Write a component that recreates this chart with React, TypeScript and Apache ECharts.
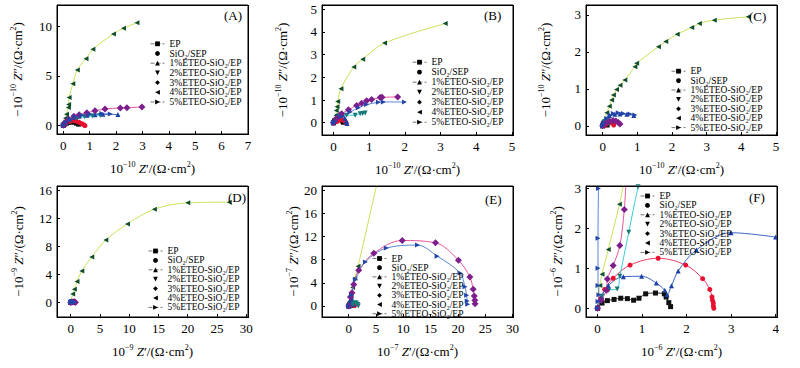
import React, { useEffect, useRef } from "react";
import * as echarts from "echarts";

type Pts = [number, number][];

const FONT = "'Liberation Serif', 'Times New Roman', serif";

const seriesNames = [
  "EP",
  "SiO₂/SEP",
  "1%ETEO-SiO₂/EP",
  "2%ETEO-SiO₂/EP",
  "3%ETEO-SiO₂/EP",
  "4%ETEO-SiO₂/EP",
  "5%ETEO-SiO₂/EP",
];
const panelLabels = ["(A)", "(B)", "(C)", "(D)", "(E)", "(F)"];
const exponents = ["10", "10", "10", "9", "7", "6"];

// tick labels
const xTicksA = [0, 1, 2, 3, 4, 5, 6, 7];
const yTicksA = [0, 5, 10];
const xTicksB = [0, 1, 2, 3, 4, 5];
const yTicksB = [0, 1, 2, 3, 4, 5];
const xTicksC = [0, 1, 2, 3, 4, 5];
const yTicksC = [0, 1, 2, 3];
const xTicksD = [0, 5, 10, 15, 20, 25, 30];
const yTicksD = [0, 4, 8, 12, 16];
const xTicksE = [0, 5, 10, 15, 20, 25, 30];
const yTicksE = [0, 4, 8, 12, 16, 20];
const xTicksF = [0, 1, 2, 3, 4];
const yTicksF = [0, 1, 2, 3];

// ---- Panel A (10^-10) ----
const aEP: Pts = [[0, 0], [0.05, 0.1], [0.12, 0.2], [0.2, 0.28], [0.3, 0.33], [0.4, 0.3], [0.5, 0.2], [0.58, 0.1]];
const aSiO2: Pts = [[0, 0], [0.1, 0.2], [0.25, 0.38], [0.4, 0.45], [0.5, 0.4], [0.6, 0.28], [0.7, 0.15], [0.78, 0.03], [0.82, -0.05]];
const a1: Pts = [[0, 0], [0.1, 0.3], [0.25, 0.6], [0.4, 0.8], [0.6, 0.9], [0.9, 1.0], [1.2, 1.05], [1.5, 1.1], [2.07, 1.08]];
const a2: Pts = [[0, 0], [0.1, 0.25], [0.25, 0.5], [0.5, 0.7], [0.8, 0.85], [1.1, 0.92], [1.4, 0.98]];
const a3: Pts = [[0, 0], [0.08, 0.3], [0.2, 0.6], [0.4, 0.9], [0.6, 1.05], [0.89, 1.25], [1.2, 1.45], [1.58, 1.63], [2.16, 1.75], [2.41, 1.76], [2.98, 1.85]];
const a4: Pts = [[0, 0], [0.04, 0.35], [0.08, 0.7], [0.12, 1.1], [0.19, 1.8], [0.2, 2.1], [0.22, 2.8], [0.36, 4.2], [0.53, 5.6], [0.86, 6.75], [1.12, 7.7], [1.9, 9.26], [2.28, 9.83], [2.79, 10.4]];
const a5: Pts = [[0, 0], [0.1, 0.3], [0.25, 0.6], [0.45, 0.85], [0.7, 1.0], [1.0, 1.1], [1.46, 1.18], [1.78, 1.12]];

// ---- Panel B (10^-10) ----
const bEP: Pts = [[0, 0], [0.03, 0.08], [0.08, 0.15], [0.14, 0.18], [0.2, 0.15], [0.25, 0.08], [0.28, 0.02]];
const bSiO2: Pts = [[0.1, 0.05], [0.18, 0.12], [0.24, 0.14], [0.3, 0.1], [0.34, 0.04], [0.36, -0.02]];
const b1: Pts = [[0, 0], [0.05, 0.15], [0.1, 0.3], [0.18, 0.4], [0.25, 0.35], [0.32, 0.2], [0.36, 0.05], [0.38, -0.03]];
const b2: Pts = [[0, 0], [0.05, 0.09], [0.19, 0.26], [0.37, 0.33], [0.61, 0.33], [0.75, 0.4], [0.82, 0.41], [0.89, 0.43]];
const b3: Pts = [[0, 0], [0.09, 0.19], [0.23, 0.4], [0.42, 0.57], [0.65, 0.76], [0.79, 0.86], [0.93, 0.97], [1.07, 1.03], [1.31, 1.11], [1.36, 1.12], [1.8, 1.14]];
const b4: Pts = [[0, 0], [0.03, 0.11], [0.07, 0.33], [0.08, 0.54], [0.1, 0.71], [0.12, 0.94], [0.21, 1.5], [0.57, 2.46], [0.82, 2.8], [1.43, 3.51], [3.13, 4.37]];
const b5: Pts = [[0, 0], [0.05, 0.04], [0.23, 0.26], [0.47, 0.47], [0.7, 0.66], [0.93, 0.8], [1.26, 0.9], [1.4, 0.92], [1.99, 0.91]];

// ---- Panel C (10^-10) ----
const cEP: Pts = [[0, 0], [0.02, 0.05], [0.06, 0.08], [0.1, 0.06], [0.13, 0.02]];
const cSiO2: Pts = [[0.05, 0], [0.12, 0.06], [0.2, 0.09], [0.27, 0.07], [0.32, 0.02]];
const c1: Pts = [[0, 0], [0.04, 0.1], [0.1, 0.2], [0.2, 0.27], [0.35, 0.31], [0.5, 0.32], [0.7, 0.31], [0.9, 0.28]];
const c2: Pts = [[0, 0], [0.05, 0.1], [0.1, 0.15], [0.15, 0.12], [0.2, 0.05]];
const c3: Pts = [[0, 0], [0.1, 0.08], [0.2, 0.12], [0.3, 0.14], [0.38, 0.13], [0.45, 0.09], [0.5, 0.05]];
const c4: Pts = [[0, 0], [0.04, 0.15], [0.12, 0.35], [0.19, 0.53], [0.26, 0.7], [0.31, 0.83], [0.4, 0.98], [0.5, 1.1], [0.64, 1.24], [0.93, 1.6], [0.98, 1.69], [1.61, 2.14], [1.82, 2.28], [2.15, 2.48], [2.57, 2.66], [2.79, 2.77], [3.22, 2.86], [4.2, 2.95]];
const c5: Pts = [[0, 0], [0.04, 0.08], [0.12, 0.2], [0.21, 0.29], [0.31, 0.33], [0.45, 0.35], [0.6, 0.33], [0.79, 0.32], [0.93, 0.29]];

// ---- Panel D (10^-9) ----
const dEP: Pts = [[0, 0], [0.1, 0.05], [0.2, 0.08], [0.3, 0.05], [0.35, 0]];
const dSiO2: Pts = [[0, 0], [0.15, 0.06], [0.3, 0.08], [0.45, 0.04], [0.5, 0]];
const d1: Pts = [[0, 0], [0.1, 0.1], [0.3, 0.15], [0.5, 0.1], [0.6, 0.02]];
const d2: Pts = [[0, 0], [0.05, 0.05], [0.1, 0.07], [0.15, 0.03]];
const d3: Pts = [[0, 0], [0.2, 0.08], [0.45, 0.12], [0.7, 0.1], [0.8, 0.02]];
const d4: Pts = [[0, 0], [0.34, 1.23], [0.63, 1.9], [1.08, 3.0], [1.9, 4.5], [3.6, 6.5], [6.0, 8.9], [9.7, 11.2], [14.3, 13.3], [20.0, 14.2], [27.1, 14.3]];
const d5: Pts = [[0, 0], [0.1, 0.1], [0.3, 0.2], [0.5, 0.15], [0.65, 0.05]];

// ---- Panel E (10^-7) ----
const eEP: Pts = [[0, 0], [0.2, 0.3], [0.4, 0.45], [0.6, 0.35], [0.75, 0.1]];
const eSiO2: Pts = [[0, 0], [0.3, 0.35], [0.6, 0.5], [0.9, 0.35], [1.05, 0.05]];
const e1: Pts = [[0, 0], [0.2, 0.8], [0.35, 1.8], [0.5, 1.4], [0.7, 0.8], [0.9, 0.3]];
const e2: Pts = [[0.5, 0], [0.8, 0.35], [1.1, 0.55], [1.4, 0.5], [1.65, 0.25], [1.75, 0]];
const e3: Pts = [[0, 0], [0.31, 1.56], [0.6, 2.3], [0.92, 3.69], [1.84, 6.17], [4.6, 9.1], [9.8, 11.3], [15.9, 10.9], [20.1, 7.9], [22.2, 5.0], [22.8, 2.9], [23.0, 1.73], [23.1, 0.98], [23.15, 0.4]];
const e4: Pts = [[0, 0], [0.2, 0.8], [0.4, 1.7], [0.7, 3.2], [1.1, 4.8], [1.71, 6.86], [5.63, 23]];
const e5: Pts = [[0, 0], [0.49, 1.84], [1.22, 4.55], [3.06, 7.6], [6.9, 10.0], [12.6, 10.5], [16.2, 8.6], [20.4, 5.7], [21.3, 3.3], [21.6, 1.84], [21.7, 0.86], [21.8, 0.29]];

// ---- Panel F (10^-6) ----
const fEP: Pts = [[0, 0], [0.1, 0.13], [0.22, 0.19], [0.37, 0.22], [0.52, 0.25], [0.67, 0.24], [0.81, 0.2], [0.93, 0.25], [1.08, 0.36], [1.3, 0.38], [1.5, 0.36], [1.54, 0.28], [1.6, 0.14], [1.64, 0.04]];
const fSiO2: Pts = [[0, 0], [0.08, 0.25], [0.16, 0.47], [0.35, 0.75], [0.73, 1.08], [1.36, 1.25], [1.98, 1.08], [2.36, 0.74], [2.52, 0.47], [2.57, 0.28], [2.58, 0.2], [2.6, 0.13], [2.6, 0.06], [2.61, 0]];
const f1: Pts = [[0, 0.04], [0.09, 0.3], [0.24, 0.57], [0.58, 0.79], [0.99, 0.8], [1.32, 0.63], [1.51, 0.45], [1.56, 0.34], [1.66, 0.56], [1.81, 0.93], [2.22, 1.46], [3.0, 1.89], [4.0, 1.78]];
const f2: Pts = [[0, 0], [0.1, 0.3], [0.25, 0.45], [0.44, 0.48], [0.5, 0.8], [0.7, 1.9], [0.91, 3.04], [1.0, 3.4]];
const f3: Pts = [[0, 0], [0.08, 0.2], [0.2, 0.45], [0.22, 0.73], [0.35, 1.07], [0.5, 1.57], [0.6, 2.47], [0.64, 3.2]];
const f4: Pts = [[0, 0], [0.05, 0.57], [0.1, 0.85], [0.24, 1.47], [0.49, 2.6], [0.62, 3.3]];
const f5: Pts = [[0, 0], [0.01, 0.17], [0.03, 0.34], [0.01, 0.57], [0.01, 1.0], [0.01, 1.75], [0.02, 3.0], [0.03, 3.3]];

const panelData: Pts[][] = [
  [aEP, aSiO2, a1, a2, a3, a4, a5],
  [bEP, bSiO2, b1, b2, b3, b4, b5],
  [cEP, cSiO2, c1, c2, c3, c4, c5],
  [dEP, dSiO2, d1, d2, d3, d4, d5],
  [eEP, eSiO2, e1, e2, e3, e4, e5],
  [fEP, fSiO2, f1, f2, f3, f4, f5],
];
const xTicks = [xTicksA, xTicksB, xTicksC, xTicksD, xTicksE, xTicksF];
const yTicks = [yTicksA, yTicksB, yTicksC, yTicksD, yTicksE, yTicksF];

// layout / style (not data)
const grids = [
  { left: 57, top: 5, width: 191, height: 129 },
  { left: 322, top: 5, width: 191, height: 130 },
  { left: 586, top: 5, width: 191, height: 130 },
  { left: 57, top: 186, width: 191, height: 131 },
  { left: 322, top: 186, width: 191, height: 131 },
  { left: 586, top: 186, width: 191, height: 131 },
];
const xRanges = [[-0.24, 7.0], [-0.32, 5.03], [-0.48, 5.03], [-2.34, 30.3], [-4.9, 30.1], [-0.26, 4.03]];
const yRanges = [[-0.9, 12.2], [-0.54, 5.19], [-0.25, 3.27], [-2.06, 16.6], [-1.9, 20.7], [-0.22, 3.06]];
const legendPos = [
  { left: 150, top: 38.8, gap: -0.3 },
  { left: 412, top: 57.2, gap: 0 },
  { left: 671, top: 66.2, gap: -0.6 },
  { left: 148, top: 246, gap: -0.6 },
  { left: 372, top: 253.5, gap: -0.8 },
  { left: 640, top: 191, gap: -0.6 },
];
const labelPos = [
  { left: 224, top: 9 },
  { left: 484, top: 8.5 },
  { left: 749, top: 9.5 },
  { left: 228, top: 190.5 },
  { left: 485, top: 192.5 },
  { left: 749, top: 190.5 },
];
const yNameGaps = [32, 32, 33, 31, 21, 21];

const markerColors = ["#111111", "#e8102e", "#1b3fa8", "#177a78", "#7c1f8c", "#0f4d2c", "#2445a8"];
const lineColors = ["#333333", "#e83a64", "#3a62c4", "#3ccbe0", "#e8559e", "#c9e35a", "#5b86d6"];
const symbols = ["rect", "circle", "triangle", "triangle", "diamond", "triangle", "triangle"];
const rotates = [0, 0, 0, 180, 0, 90, -90];
const legendHasLine = [true, false, true, false, false, false, true];

const rich = {
  s: { fontSize: 8, verticalAlign: "top" as const, fontFamily: FONT, color: "#000", lineHeight: 16 },
  i: { fontSize: 13, fontStyle: "italic" as const, fontFamily: FONT, color: "#000", lineHeight: 16 },
  t: { fontSize: 13, fontFamily: FONT, color: "#000", lineHeight: 16 },
};

export default function App() {
  const ref = useRef<HTMLDivElement>(null);
  useEffect(() => {
    if (!ref.current) return;
    const chart = echarts.init(ref.current, undefined, { renderer: "svg" });
    const series: any[] = [];
    panelData.forEach((group, gi) => {
      group.forEach((pts, si) => {
        series.push({
          type: "line",
          name: seriesNames[si],
          xAxisIndex: gi,
          yAxisIndex: gi,
          data: pts,
          smooth: 0.35,
          symbol: symbols[si],
          symbolRotate: rotates[si],
          symbolSize: si === 4 ? 7 : 5,
          showAllSymbol: true,
          clip: true,
          itemStyle: { color: markerColors[si] },
          lineStyle: { color: lineColors[si], width: 1 },
          z: si === 5 ? 1 : 2,
        });
      });
    });
    // plot frames, drawn as separate top and right edge lines
    const frames: any[] = [];
    grids.forEach((g) => {
      frames.push({
        type: "line",
        z: 100,
        shape: { x1: g.left, y1: g.top + 0.5, x2: g.left + g.width + 1, y2: g.top + 0.5 },
        style: { stroke: "#000", lineWidth: 1 },
      });
      frames.push({
        type: "line",
        z: 100,
        shape: { x1: g.left + g.width + 0.5, y1: g.top, x2: g.left + g.width + 0.5, y2: g.top + g.height + 1 },
        style: { stroke: "#000", lineWidth: 1 },
      });
    });
    const option: any = {
      animation: false,
      grid: grids.map((g) => ({ ...g, show: true, borderColor: "#000", borderWidth: 1 })),
      graphic: { elements: frames },
      title: panelLabels.map((t, i) => ({
        text: t,
        left: labelPos[i].left,
        top: labelPos[i].top,
        padding: 0,
        textStyle: { fontFamily: FONT, fontSize: 13, fontWeight: "normal", color: "#000" },
      })),
      legend: legendPos.map((p) => ({
        left: p.left,
        top: p.top,
        orient: "vertical",
        padding: 0,
        itemGap: p.gap,
        itemWidth: 14,
        itemHeight: 6,
        selectedMode: false,
        textStyle: { fontFamily: FONT, fontSize: 9.5, lineHeight: 9, color: "#000" },
        itemStyle: { color: "#000", borderWidth: 0 },
        lineStyle: { color: "#777", width: 1, type: "dashed" },
        data: seriesNames.map((nm, si) => ({
          name: nm,
          itemStyle: { color: "#000" },
          lineStyle: legendHasLine[si] ? { color: "#777", width: 1, type: "dashed" } : { color: "rgba(0,0,0,0)" },
        })),
      })),
      xAxis: grids.map((_, i) => ({
        type: "value",
        gridIndex: i,
        position: "bottom",
        min: xRanges[i][0],
        max: xRanges[i][1],
        axisLine: { show: true, onZero: false, lineStyle: { color: "#000", width: 1 } },
        axisTick: { show: true, inside: true, length: 3, customValues: xTicks[i], lineStyle: { color: "#000" } },
        axisLabel: { customValues: xTicks[i], fontFamily: FONT, fontSize: 13, color: "#000", margin: 5 },
        splitLine: { show: false },
        name: `{t|10}{s|−${exponents[i]}}{t| }{i|Z}{t|′/(Ω·cm}{s|2}{t|)}`,
        nameLocation: "middle",
        nameGap: 26,
        nameMoveOverlap: false,
        nameTextStyle: { fontFamily: FONT, fontSize: 13, color: "#000", rich },
      })),
      yAxis: grids.map((_, i) => ({
        type: "value",
        gridIndex: i,
        position: "left",
        min: yRanges[i][0],
        max: yRanges[i][1],
        axisLine: { show: true, onZero: false, lineStyle: { color: "#000", width: 1 } },
        axisTick: { show: true, inside: true, length: 3, customValues: yTicks[i], lineStyle: { color: "#000" } },
        axisLabel: { customValues: yTicks[i], fontFamily: FONT, fontSize: 13, color: "#000", margin: 5 },
        splitLine: { show: false },
        name: `{t|−10}{s|−${exponents[i]}}{t| }{i|Z}{t|″/(Ω·cm}{s|2}{t|)}`,
        nameLocation: "middle",
        nameGap: yNameGaps[i],
        nameMoveOverlap: false,
        nameTextStyle: { fontFamily: FONT, fontSize: 13, color: "#000", rich },
      })),
      series,
    };
    chart.setOption(option);
    return () => chart.dispose();
  }, []);
  return (
    <div
      ref={ref}
      style={{ position: "fixed", left: 0, top: 0, width: 800, height: 368, background: "#fff" }}
    />
  );
}
